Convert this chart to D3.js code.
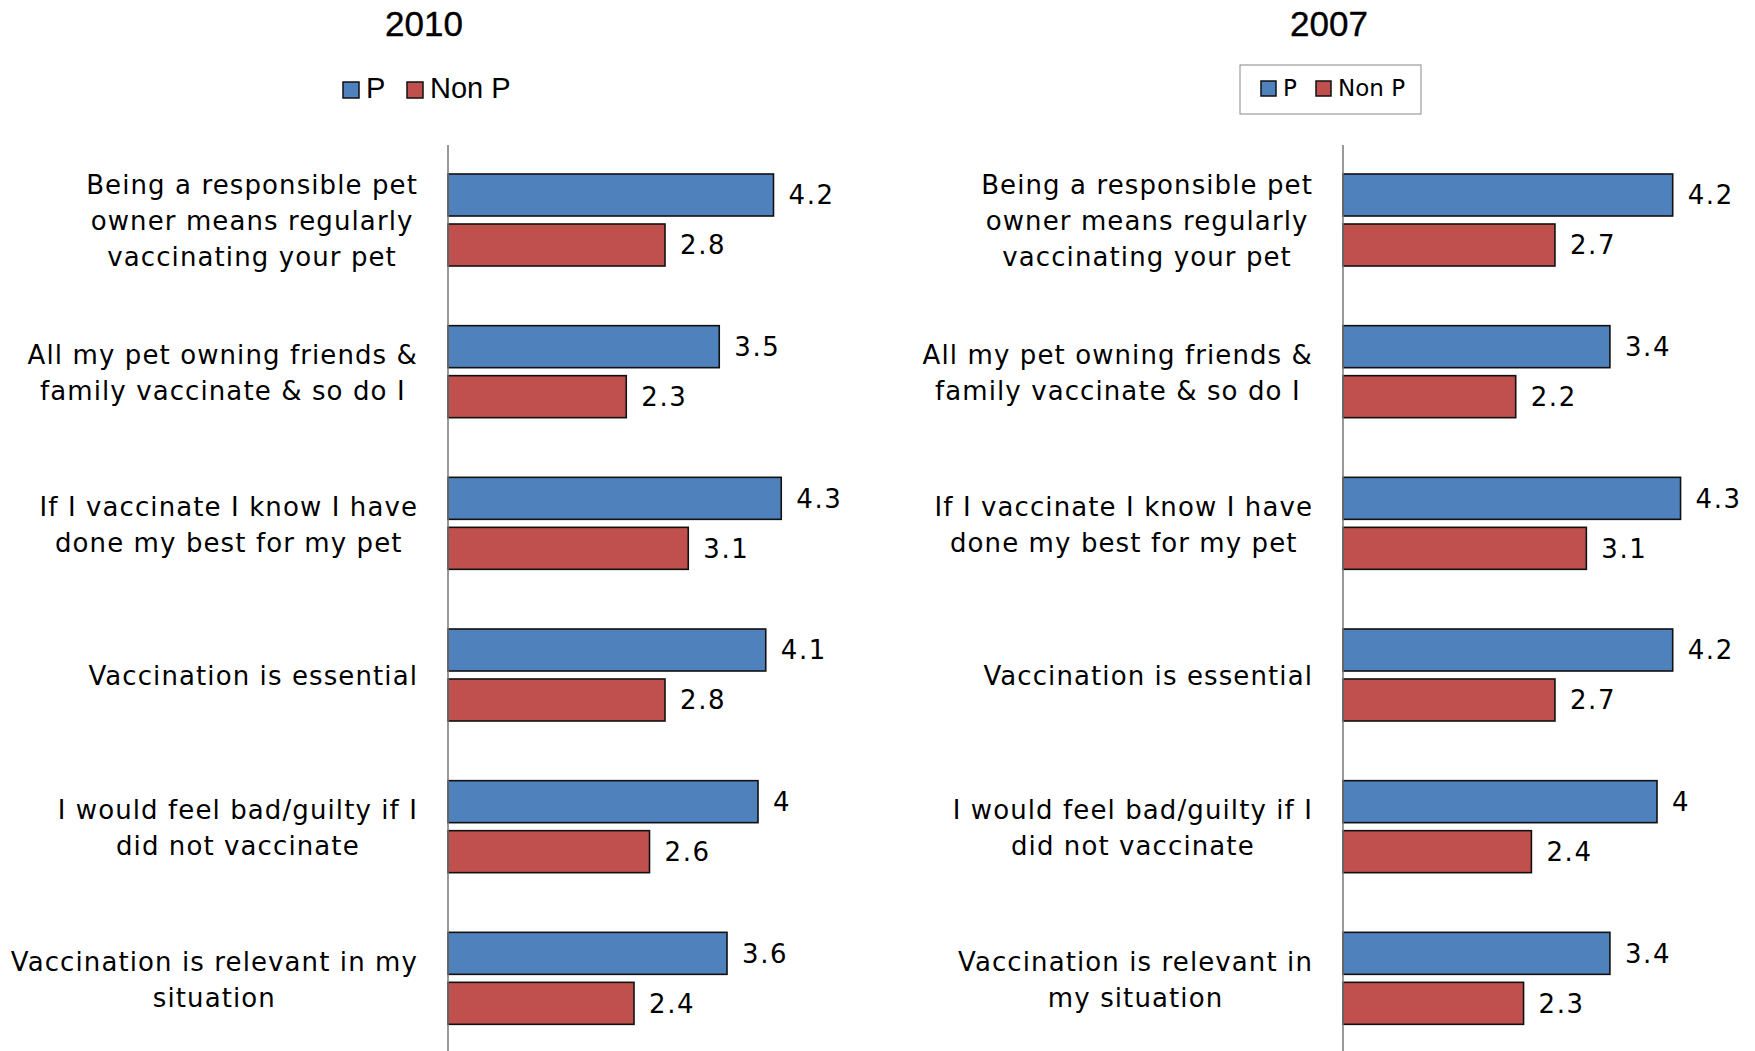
<!DOCTYPE html>
<html>
<head>
<meta charset="utf-8">
<script src="https://cdn.jsdelivr.net/npm/d3@7"></script>
<style>
  body { margin: 0; background: #fff; }
  #chart { width: 1755px; height: 1051px; }
</style>
</head>
<body>
<div id="chart"></div>
<script>
var categories = [
    ["Being a responsible pet", "owner means regularly", "vaccinating your pet"],
    ["All my pet owning friends &", "family vaccinate & so do I"],
    ["If I vaccinate I know I have", "done my best for my pet"],
    ["Vaccination is essential"],
    ["I would feel bad/guilty if I", "did not vaccinate"],
    ["Vaccination is relevant in my", "situation"]
];
var categories2007 = [
    ["Being a responsible pet", "owner means regularly", "vaccinating your pet"],
    ["All my pet owning friends &", "family vaccinate & so do I"],
    ["If I vaccinate I know I have", "done my best for my pet"],
    ["Vaccination is essential"],
    ["I would feel bad/guilty if I", "did not vaccinate"],
    ["Vaccination is relevant in", "my situation"]
];
var series = ["P", "Non P"];
var colors = ["#4F81BD", "#C0504D"];

var p2010 = [4.2, 3.5, 4.3, 4.1, 4, 3.6];
var nonP2010 = [2.8, 2.3, 3.1, 2.8, 2.6, 2.4];
var p2007 = [4.2, 3.4, 4.3, 4.2, 4, 3.4];
var nonP2007 = [2.7, 2.2, 3.1, 2.7, 2.4, 2.3];

var width = 1755, height = 1051;

var svg = d3.select("#chart")
    .append("svg")
    .attr("width", width)
    .attr("height", height);

function drawPanel(cfg) {
    var g = svg.append("g");

    var rows = cfg.labels.map(function(l, i) {
        return { id: i, lines: l, values: [cfg.p[i], cfg.nonP[i]] };
    });

    var y0 = d3.scaleBand()
        .domain(rows.map(function(d) { return d.id; }))
        .range([145, 1055]);

    var y1 = d3.scaleBand()
        .domain(series)
        .range([29, 121])
        .paddingInner(0.16);

    var x = d3.scaleLinear()
        .domain([0, 5])
        .range([cfg.axisX, cfg.axisX + 5 * cfg.unit]);

    // title
    g.append("text")
        .attr("x", cfg.titleX)
        .attr("y", 36)
        .attr("text-anchor", "middle")
        .attr("font-family", "Liberation Sans, Arial, sans-serif")
        .attr("font-size", "35px")
        .attr("stroke", "#000")
        .attr("stroke-width", 0.4)
        .attr("fill", "#000")
        .text(cfg.title);

    var row = g.selectAll(".row")
        .data(rows)
        .enter().append("g")
        .attr("class", "row")
        .attr("transform", function(d) { return "translate(0," + y0(d.id) + ")"; });

    row.selectAll("rect")
        .data(function(d) { return d.values.map(function(v, i) { return { s: series[i], v: v, c: colors[i] }; }); })
        .enter().append("rect")
        .attr("x", x(0))
        .attr("y", function(d) { return y1(d.s); })
        .attr("width", function(d) { return x(d.v) - x(0); })
        .attr("height", y1.bandwidth())
        .attr("fill", function(d) { return d.c; })
        .attr("stroke", "#111")
        .attr("stroke-width", 1.6);

    row.selectAll(".val")
        .data(function(d) { return d.values.map(function(v, i) { return { s: series[i], v: v }; }); })
        .enter().append("text")
        .attr("class", "val")
        .attr("x", function(d) { return x(d.v) + 15; })
        .attr("y", function(d) { return y1(d.s) + y1.bandwidth() / 2; })
        .attr("dy", "0.36em")
        .attr("font-family", "DejaVu Sans, sans-serif")
        .attr("font-size", "26px")
        .attr("letter-spacing", "1.6px")
        .attr("fill", "#000")
        .text(function(d) { return String(d.v); });

    // category labels: a centred block, right edge near the axis
    var labelRight = cfg.axisX - 30;
    var lineH = 36;
    row.each(function(d) {
        var lab = d3.select(this).append("g");
        var bandMid = y0.bandwidth() / 2;
        var texts = lab.selectAll("text")
            .data(d.lines)
            .enter().append("text")
            .attr("text-anchor", "middle")
            .attr("font-family", "DejaVu Sans, sans-serif")
            .attr("font-size", "26px")
            .attr("letter-spacing", "1.1px")
            .attr("fill", "#000")
            .attr("y", function(t, i) { return bandMid + (i - (d.lines.length - 1) / 2) * lineH; })
            .attr("dy", "0.36em")
            .text(function(t) { return t; });
        var maxW = 0;
        texts.each(function() { maxW = Math.max(maxW, this.getComputedTextLength()); });
        texts.attr("x", labelRight - maxW / 2);
    });

    // axis line
    g.append("line")
        .attr("x1", x(0)).attr("x2", x(0))
        .attr("y1", 145).attr("y2", height)
        .attr("stroke", "#777")
        .attr("stroke-width", 1.5);

    // legend
    var leg = g.append("g");
    if (cfg.legendBox) {
        leg.append("rect")
            .attr("x", cfg.legendBox[0]).attr("y", cfg.legendBox[1])
            .attr("width", cfg.legendBox[2]).attr("height", cfg.legendBox[3])
            .attr("fill", "#fff")
            .attr("stroke", "#888")
            .attr("stroke-width", 1);
    }
    series.forEach(function(s, i) {
        leg.append("rect")
            .attr("x", cfg.legendX[i])
            .attr("y", cfg.legendY)
            .attr("width", cfg.legendSize)
            .attr("height", cfg.legendSize)
            .attr("fill", colors[i])
            .attr("stroke", "#111")
            .attr("stroke-width", 1.5);
        leg.append("text")
            .attr("x", cfg.legendX[i] + cfg.legendSize + 7)
            .attr("y", cfg.legendY + cfg.legendSize)
            .attr("font-family", cfg.legendFont)
            .attr("font-size", cfg.legendFontSize)
            .attr("fill", "#000")
            .text(s);
    });
}

drawPanel({
    title: "2010", titleX: 424,
    labels: categories, p: p2010, nonP: nonP2010,
    axisX: 448, unit: 77.5,
    legendX: [343, 407], legendY: 82, legendSize: 16,
    legendFont: "Liberation Sans, Arial, sans-serif", legendFontSize: "29px"
});

drawPanel({
    title: "2007", titleX: 1329,
    labels: categories2007, p: p2007, nonP: nonP2007,
    axisX: 1343, unit: 78.5,
    legendBox: [1240, 65, 181, 49],
    legendX: [1261, 1316], legendY: 81, legendSize: 15,
    legendFont: "DejaVu Sans, sans-serif", legendFontSize: "23px"
});
</script>
</body>
</html>
